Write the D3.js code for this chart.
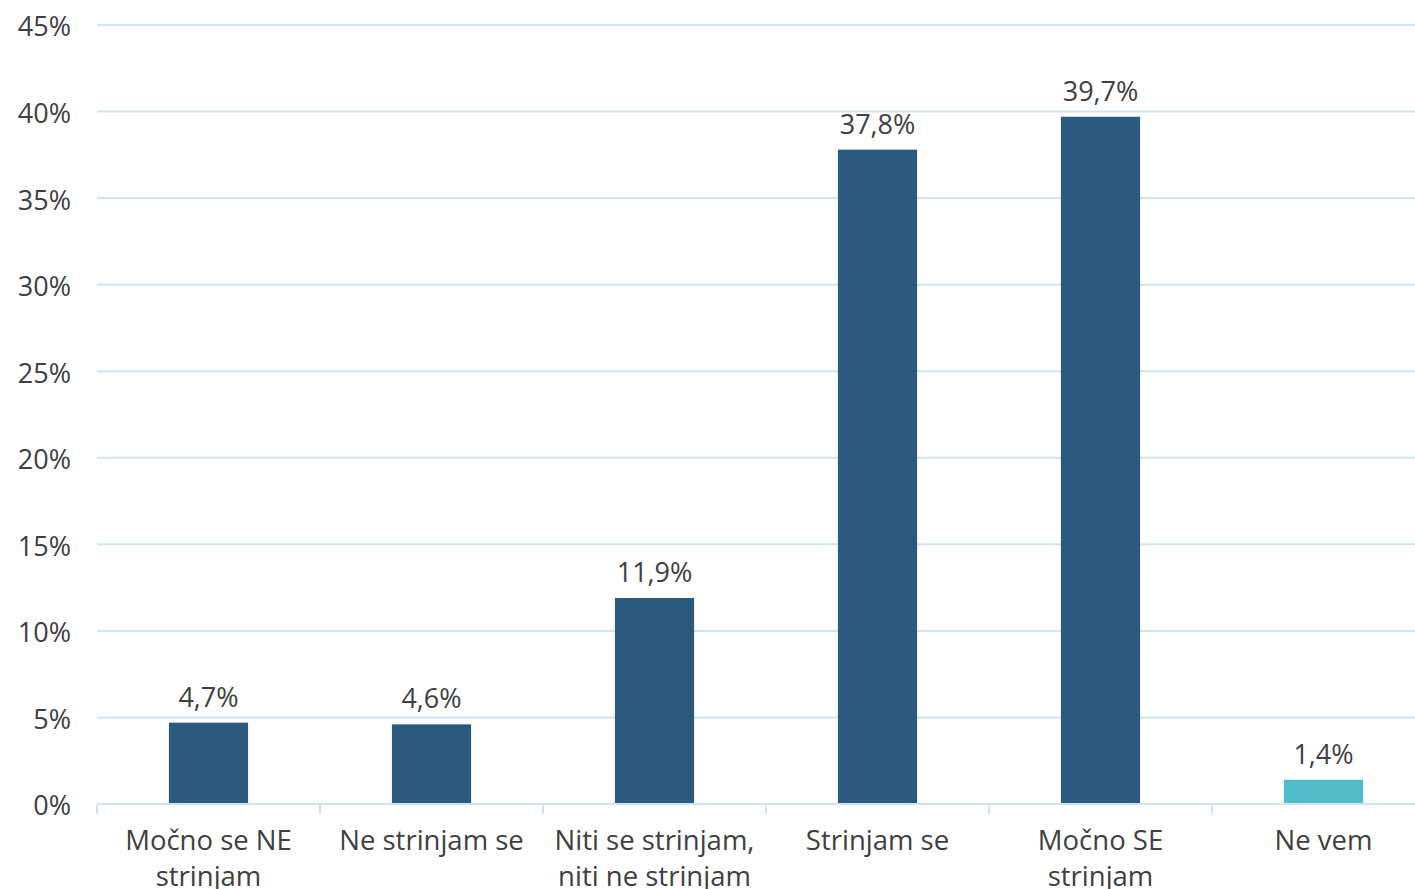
<!DOCTYPE html>
<html><head><meta charset="utf-8">
<script src="https://cdn.jsdelivr.net/npm/d3@7"></script>
<style>
html,body{margin:0;padding:0;background:#fff;overflow:hidden;}
svg{display:block;font-family:"Open Sans",Lato,sans-serif;}
</style></head>
<body>
<svg id="chart" width="1415" height="889"></svg>
<script>
const categories = [["Močno se NE","strinjam"],["Ne strinjam se"],["Niti se strinjam,","niti ne strinjam"],["Strinjam se"],["Močno SE","strinjam"],["Ne vem"]];
const values = [4.7, 4.6, 11.9, 37.8, 39.7, 1.4];
const valueLabels = ["4,7%","4,6%","11,9%","37,8%","39,7%","1,4%"];
const yTicks = [0,5,10,15,20,25,30,35,40,45];
const barColors = ["#2B5A7E","#2B5A7E","#2B5A7E","#2B5A7E","#2B5A7E","#52BBC8"];

(function(){
const svg = d3.select("#chart");
const left = 97, bandW = 223, plotTop = 25, plotBottom = 804;
const x = d3.scaleBand().domain(d3.range(categories.length)).range([left, left + bandW*categories.length]).paddingInner(0.645).paddingOuter(0.3225);
const y = d3.scaleLinear().domain([0,45]).range([plotBottom, plotTop]);

svg.append("g").selectAll("line").data(yTicks.filter(d=>d>0)).join("line")
  .attr("x1", left).attr("x2", 1415).attr("y1", d=>y(d)).attr("y2", d=>y(d))
  .attr("stroke","#CFE5F6").attr("stroke-width",2);

svg.append("g").selectAll("text").data(yTicks).join("text")
  .attr("x", 71).attr("y", d=>y(d)+2).attr("dy","0.35em").attr("text-anchor","end")
  .attr("font-size",27).attr("fill","#404040").text(d=>d+"%");

svg.append("g").selectAll("rect").data(values).join("rect")
  .attr("x",(d,i)=>x(i)).attr("width",x.bandwidth())
  .attr("y",d=>y(d)).attr("height",d=>plotBottom-y(d))
  .attr("fill",(d,i)=>barColors[i]);

svg.append("line").attr("x1",left).attr("x2",1415).attr("y1",plotBottom).attr("y2",plotBottom)
  .attr("stroke","#CFE5F6").attr("stroke-width",2);
svg.append("g").selectAll("line").data(d3.range(categories.length+1)).join("line")
  .attr("x1",i=>left+i*bandW).attr("x2",i=>left+i*bandW).attr("y1",plotBottom).attr("y2",plotBottom+10)
  .attr("stroke","#CFE5F6").attr("stroke-width",2);

svg.append("g").selectAll("text").data(values).join("text")
  .attr("x",(d,i)=>x(i)+x.bandwidth()/2).attr("y",d=>y(d)-16)
  .attr("text-anchor","middle").attr("font-size",27).attr("fill","#404040")
  .text((d,i)=>valueLabels[i]);

const cat = svg.append("g").selectAll("text").data(categories).join("text")
  .attr("x",(d,i)=>x(i)+x.bandwidth()/2).attr("y",850)
  .attr("text-anchor","middle").attr("font-size",27.5).attr("fill","#404040");
cat.selectAll("tspan").data(d=>d).join("tspan")
  .attr("x",function(){return this.parentNode.getAttribute("x");})
  .attr("dy",(d,j)=>j===0?0:36).text(d=>d);
})();
</script>
</body></html>
